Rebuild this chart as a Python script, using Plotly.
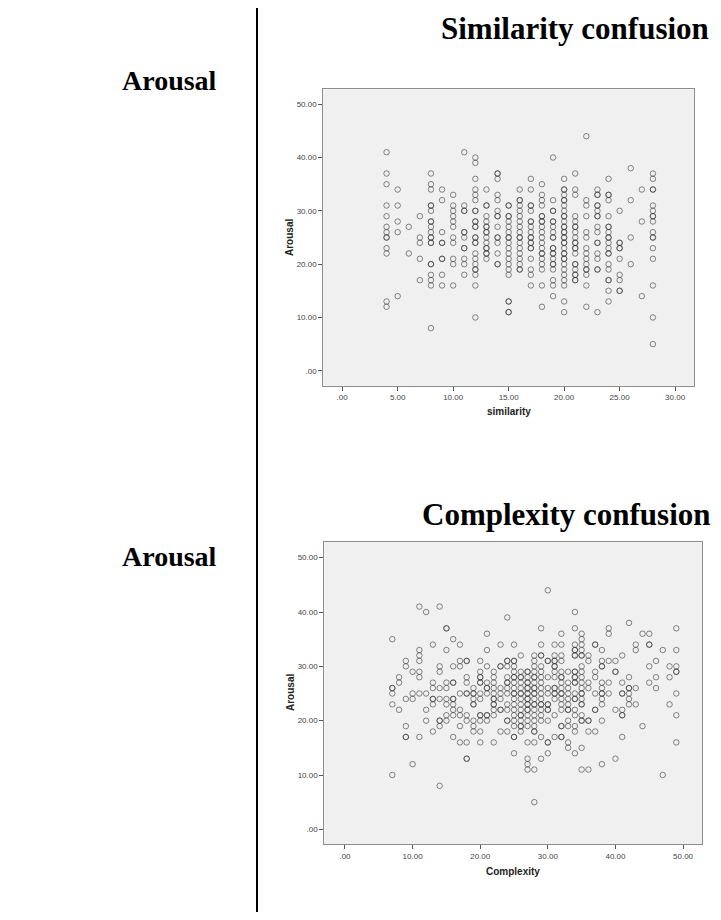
import plotly.graph_objects as go

# ---------------- data ----------------
similarity_levels = list(range(4, 29))
arousal_by_similarity = [
    [41, 37, 35, 31, 29, 27, 26, 25, 25, 23, 22, 13, 12],            # 4
    [34, 31, 28, 26, 14],                                            # 5
    [27, 22],                                                        # 6
    [29, 25, 24, 21, 17],                                            # 7
    [37, 35, 34, 31, 31, 30, 28, 28, 27, 26, 25, 25, 24, 24, 20, 20, 18, 17, 16, 8],  # 8
    [34, 32, 26, 24, 24, 21, 21, 18, 16],                            # 9
    [33, 31, 30, 29, 28, 27, 25, 24, 21, 20, 16],                    # 10
    [41, 31, 30, 30, 26, 26, 25, 23, 23, 21, 20, 18],                # 11
    [40, 39, 36, 34, 33, 32, 30, 30, 28, 28, 27, 27, 25, 25, 24, 24, 22, 21, 20, 19, 19, 18, 16, 10],  # 12
    [34, 31, 31, 29, 28, 27, 27, 26, 26, 25, 24, 23, 23, 22, 22, 21],  # 13
    [37, 37, 36, 33, 32, 30, 29, 29, 27, 25, 25, 24, 22, 20, 20],    # 14
    [31, 31, 29, 29, 28, 27, 26, 25, 25, 24, 23, 22, 21, 20, 19, 18, 13, 13, 11, 11],  # 15
    [34, 32, 32, 31, 30, 29, 28, 27, 26, 25, 25, 24, 23, 22, 21, 20, 19, 19],  # 16
    [36, 34, 31, 31, 30, 28, 28, 27, 26, 25, 25, 24, 24, 23, 23, 21, 19, 18, 16],  # 17
    [35, 33, 32, 31, 29, 29, 28, 28, 27, 26, 25, 24, 23, 22, 22, 21, 20, 19, 16, 12],  # 18
    [40, 32, 30, 30, 28, 28, 27, 26, 25, 25, 23, 23, 22, 22, 21, 20, 20, 19, 17, 16, 14],  # 19
    [36, 34, 34, 33, 32, 32, 31, 30, 29, 29, 28, 27, 27, 26, 26, 25, 25, 24, 24, 23,
     22, 22, 21, 21, 20, 19, 18, 17, 16, 13, 11],                    # 20
    [37, 34, 33, 29, 28, 27, 27, 26, 25, 24, 24, 23, 23, 22, 20, 20, 19, 18, 18, 17, 17],  # 21
    [44, 32, 31, 29, 26, 25, 23, 22, 21, 20, 19, 19, 18, 16, 12],    # 22
    [34, 33, 33, 31, 31, 30, 29, 29, 27, 26, 24, 24, 22, 21, 19, 19, 11],  # 23
    [36, 33, 33, 32, 29, 27, 27, 26, 25, 25, 24, 23, 22, 22, 20, 19, 17, 17, 15, 13],  # 24
    [30, 24, 24, 23, 23, 21, 18, 17, 15, 15],                        # 25
    [38, 32, 25, 20],                                                # 26
    [34, 28, 14],                                                    # 27
    [37, 36, 34, 34, 31, 30, 29, 29, 28, 26, 25, 25, 23, 21, 16, 10, 5],  # 28
]

complexity_levels = list(range(7, 50))
arousal_by_complexity = [
    [35, 26, 26, 25, 23, 10],                                        # 7
    [28, 27, 22],                                                    # 8
    [31, 30, 24, 19, 17, 17],                                        # 9
    [29, 25, 24, 12],                                                # 10
    [41, 33, 32, 31, 29, 28, 25, 17],                                # 11
    [40, 25, 22, 20],                                                # 12
    [34, 27, 26, 24, 24, 23, 18],                                    # 13
    [41, 30, 29, 26, 24, 20, 20, 19, 8],                             # 14
    [37, 37, 33, 27, 26, 24, 23, 21, 20],                            # 15
    [35, 30, 27, 27, 24, 24, 23, 22, 21, 17],                        # 16
    [34, 31, 30, 25, 22, 21, 19, 16],                                # 17
    [31, 31, 28, 27, 25, 25, 21, 20, 16, 13, 13],                    # 18
    [26, 25, 25, 24, 23, 23, 20, 19, 18],                            # 19
    [31, 29, 28, 28, 27, 27, 25, 24, 21, 21, 20, 18, 16],            # 20
    [36, 33, 30, 27, 26, 26, 25, 21, 21, 20],                        # 21
    [29, 28, 27, 26, 25, 24, 24, 23, 23, 22, 21, 16],                # 22
    [34, 30, 30, 26, 25, 24, 22, 22, 18],                            # 23
    [39, 31, 31, 30, 28, 27, 27, 26, 25, 23, 22, 20, 20, 18],        # 24
    [34, 31, 31, 30, 29, 28, 28, 27, 26, 25, 25, 24, 23, 22, 21, 20, 19, 17, 17, 14],  # 25
    [32, 29, 28, 28, 27, 26, 25, 25, 24, 23, 22, 21, 21, 20, 19, 19, 18],  # 26
    [29, 29, 28, 27, 27, 26, 26, 25, 25, 24, 24, 23, 23, 22, 22, 21, 20, 19, 16, 13, 12, 11],  # 27
    [32, 31, 30, 29, 28, 28, 27, 26, 26, 25, 25, 24, 23, 23, 22, 21, 20, 19, 18, 18, 16, 11, 5],  # 28
    [37, 34, 32, 32, 30, 29, 28, 27, 26, 25, 24, 23, 23, 22, 21, 20, 17, 13],  # 29
    [44, 31, 31, 28, 26, 25, 23, 23, 22, 22, 20, 16, 16, 14],        # 30
    [34, 32, 31, 31, 30, 30, 29, 28, 26, 26, 25, 25, 24, 21, 17],    # 31
    [36, 34, 32, 31, 29, 28, 28, 27, 26, 25, 25, 24, 23, 22, 19, 19, 17, 17],  # 32
    [29, 27, 26, 25, 24, 23, 22, 22, 20, 19, 16, 15],                # 33
    [40, 37, 34, 33, 33, 32, 32, 29, 29, 28, 28, 27, 27, 25, 24, 24, 22, 21, 19, 18, 14],  # 34
    [36, 35, 34, 33, 32, 32, 30, 29, 28, 27, 26, 25, 25, 24, 23, 23, 21, 20, 20, 15, 11],  # 35
    [32, 31, 27, 26, 20, 20, 18, 11],                                # 36
    [34, 34, 29, 28, 25, 22, 22, 18],                                # 37
    [33, 31, 30, 30, 27, 26, 25, 25, 24, 23, 20, 12],                # 38
    [37, 36, 31, 27, 25],                                            # 39
    [31, 29, 29, 22, 13],                                            # 40
    [32, 27, 25, 25, 22, 21, 21, 17],                                # 41
    [38, 28, 26, 26, 25, 24, 23],                                    # 42
    [34, 33, 26, 23],                                                # 43
    [36, 19],                                                        # 44
    [36, 34, 34, 30, 27],                                            # 45
    [31, 28, 26],                                                    # 46
    [33, 10],                                                        # 47
    [30, 28, 23],                                                    # 48
    [37, 33, 30, 29, 29, 25, 21, 16],                                # 49
]

sim_tick_vals = [0, 5, 10, 15, 20, 25, 30]
sim_tick_text = [".00", "5.00", "10.00", "15.00", "20.00", "25.00", "30.00"]
cx_tick_vals = [0, 10, 20, 30, 40, 50]
cx_tick_text = [".00", "10.00", "20.00", "30.00", "40.00", "50.00"]
ar_tick_vals = [0, 10, 20, 30, 40, 50]
ar_tick_text = [".00", "10.00", "20.00", "30.00", "40.00", "50.00"]

titles = ["Similarity confusion", "Complexity confusion"]
row_labels = ["Arousal", "Arousal"]
x_titles = ["similarity", "Complexity"]
y_title = "Arousal"


def flatten(levels, groups):
    xs, ys = [], []
    for lv, vals in zip(levels, groups):
        for v in vals:
            xs.append(lv)
            ys.append(v)
    return xs, ys


# The page body keeps its default 8px margin, so the figure is drawn 8px in
# from the top-left corner; all page positions below are converted accordingly.
OFF = 8
W, H = 721 - 2 * OFF, 920 - 2 * OFF


def px(x):
    return (x - OFF) / W


def py(y):
    return 1 - (y - OFF) / H


sx, sy = flatten(similarity_levels, arousal_by_similarity)
cx, cy = flatten(complexity_levels, arousal_by_complexity)

marker = dict(symbol="circle-open", size=5.5, color="rgba(50,50,50,0.58)", line=dict(width=1))

fig = go.Figure()
fig.add_trace(go.Scatter(x=sx, y=sy, mode="markers", marker=marker, xaxis="x", yaxis="y",
                         showlegend=False, hoverinfo="x+y"))
fig.add_trace(go.Scatter(x=cx, y=cy, mode="markers", marker=marker, xaxis="x2", yaxis="y2",
                         showlegend=False, hoverinfo="x+y"))

tickfont = dict(family="Liberation Sans, Arial, sans-serif", size=8, color="#444")
axis_common = dict(showgrid=False, zeroline=False, showline=True, linecolor="#8c8c8c",
                   linewidth=1, mirror=True, ticks="outside", ticklen=4, tickcolor="#555",
                   tickwidth=1, tickfont=tickfont, tickmode="array", fixedrange=True)

# plot frames in page pixels
f1 = dict(l=323.3, r=694.0, t=89.3, b=385.7)
f2 = dict(l=324.3, r=702.0, t=542.3, b=844.0)


def xdom(f):
    return [px(f["l"]), px(f["r"])]


def ydom(f):
    return [py(f["b"]), py(f["t"])]


fig.update_layout(
    width=W, height=H, autosize=False,
    margin=dict(l=0, r=0, t=0, b=0),
    paper_bgcolor="white", plot_bgcolor="#f0f0f0",
    xaxis=dict(domain=xdom(f1), range=[-1.7, 31.7], tickvals=sim_tick_vals, ticktext=sim_tick_text,
               anchor="y", **axis_common),
    yaxis=dict(domain=ydom(f1), range=[-2.8, 52.8], tickvals=ar_tick_vals, ticktext=ar_tick_text,
               anchor="x", **axis_common),
    xaxis2=dict(domain=xdom(f2), range=[-3.06, 52.8], tickvals=cx_tick_vals, ticktext=cx_tick_text,
                anchor="y2", **axis_common),
    yaxis2=dict(domain=ydom(f2), range=[-2.7, 52.83], tickvals=ar_tick_vals, ticktext=ar_tick_text,
                anchor="x2", **axis_common),
)

serif_title = dict(family="Liberation Serif, Times New Roman, serif", size=31, color="black")
serif_row = dict(family="Liberation Serif, Times New Roman, serif", size=28, color="black")
axfont = dict(family="Liberation Sans, Arial, sans-serif", size=10, color="#222")

ann = []
# section titles
ann.append(dict(text="<b>%s</b>" % titles[0], x=px(711), y=py(28), xref="paper", yref="paper",
                xanchor="right", yanchor="middle", showarrow=False, font=serif_title))
ann.append(dict(text="<b>%s</b>" % titles[1], x=px(713), y=py(514), xref="paper", yref="paper",
                xanchor="right", yanchor="middle", showarrow=False, font=serif_title))
# row labels
ann.append(dict(text="<b>%s</b>" % row_labels[0], x=px(120), y=py(80), xref="paper", yref="paper",
                xanchor="left", yanchor="middle", showarrow=False, font=serif_row))
ann.append(dict(text="<b>%s</b>" % row_labels[1], x=px(120), y=py(556), xref="paper", yref="paper",
                xanchor="left", yanchor="middle", showarrow=False, font=serif_row))
# axis titles
ann.append(dict(text="<b>%s</b>" % x_titles[0], x=px((f1["l"] + f1["r"]) / 2), y=py(411),
                xref="paper", yref="paper", xanchor="center", yanchor="middle", showarrow=False, font=axfont))
ann.append(dict(text="<b>%s</b>" % x_titles[1], x=px((f2["l"] + f2["r"]) / 2), y=py(871),
                xref="paper", yref="paper", xanchor="center", yanchor="middle", showarrow=False, font=axfont))
ann.append(dict(text="<b>%s</b>" % y_title, x=px(289), y=py(238), xref="paper", yref="paper",
                xanchor="center", yanchor="middle", showarrow=False, font=axfont, textangle=-90))
ann.append(dict(text="<b>%s</b>" % y_title, x=px(290), y=py(693), xref="paper", yref="paper",
                xanchor="center", yanchor="middle", showarrow=False, font=axfont, textangle=-90))
fig.update_layout(annotations=ann)

# vertical divider line
fig.add_shape(type="line", xref="paper", yref="paper", x0=px(257), x1=px(257), y0=1, y1=0,
              line=dict(color="black", width=2))

fig.write_html("out.html")
